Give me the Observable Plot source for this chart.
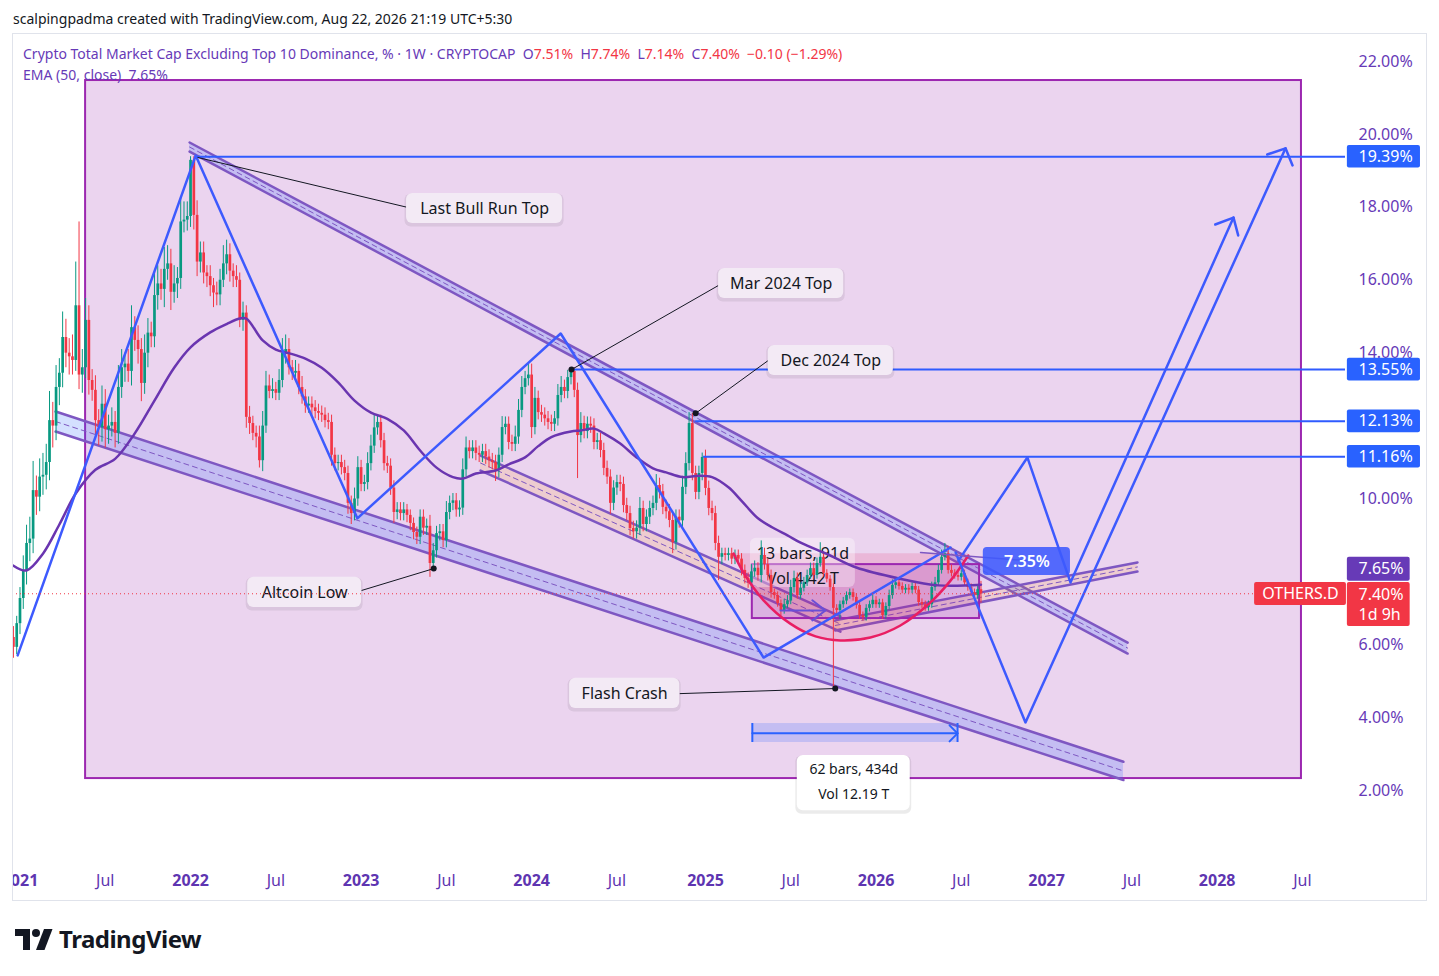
<!DOCTYPE html>
<html><head><meta charset="utf-8">
<script src="https://cdn.jsdelivr.net/npm/d3@7"></script>
<script src="https://cdn.jsdelivr.net/npm/@observablehq/plot@0.6"></script>
<style>
body{margin:0;background:#fff;font-family:"Noto Sans",sans-serif;}
#wrap{position:relative;width:1439px;height:976px;overflow:hidden;background:#fff}
#chart{position:absolute;left:0;top:0}
#leftmask{position:absolute;left:0;top:34px;width:12px;height:866px;background:#fff}
#panel{position:absolute;left:12px;top:33px;width:1415px;height:868px;border:1px solid #e0e3eb;box-sizing:border-box;pointer-events:none}
#credit{position:absolute;left:13px;top:9px;font-size:14px;color:#131722;white-space:nowrap}
#legend{position:absolute;left:23px;top:43px;font-size:14px;color:#673ab7;line-height:21px;white-space:nowrap}
#legend .r{color:#f23645}
#logo{position:absolute;left:15px;top:922px;display:flex;align-items:center;gap:6px;font-size:24px;font-weight:700;color:#131722;letter-spacing:-0.5px}
</style></head>
<body>
<div id="wrap">
<div id="chart"></div>
<div id="leftmask"></div>
<div id="panel"></div>
<div id="credit">scalpingpadma created with TradingView.com, Aug 22, 2026 21:19 UTC+5:30</div>
<div id="legend">Crypto Total Market Cap Excluding Top 10 Dominance, % · 1W · CRYPTOCAP&nbsp; O<span class="r">7.51%</span>&nbsp; H<span class="r">7.74%</span>&nbsp; L<span class="r">7.14%</span>&nbsp; C<span class="r">7.40%</span>&nbsp; <span class="r">−0.10 (−1.29%)</span><br>EMA (50, close)&nbsp; 7.65%</div>
<div id="logo"><svg width="38" height="22" viewBox="0 0 38 22"><path d="M15 22H8V8H0V1h15z" fill="#131722"/><circle cx="21" cy="5" r="4" fill="#131722"/><path d="M29 1h8.5l-8 21H21z" fill="#131722"/></svg><span>TradingView</span></div>
</div>
<script>
// ---------- DATA ----------
const lastBarDate = "2026-08-17";      // weekly bars, last bar
const firstOpen = 6.2;
const closes = [
5.93,6.58,7.27,8.04,8.78,8.9,10.23,10.05,10.6,10.65,11.0,12.15,12.0,13.06,13.45,14.43,14.0,13.9,13.8,15.3,
13.4,13.6,14.9,13.25,12.98,12.15,11.96,12.6,11.9,12.0,12.1,11.8,13.06,13.6,13.7,13.5,14.7,14.35,14.1,13.17,
14.0,14.55,14.45,15.58,15.9,15.75,16.3,16.45,15.67,15.9,16.05,17.6,17.65,17.75,19.29,17.78,16.5,16.75,16.2,16.1,
15.85,15.65,15.6,16.0,16.45,16.7,16.25,16.1,16.0,14.9,15.1,12.24,12.07,11.8,11.7,11.05,12.0,13.1,12.95,13.0,
12.9,13.25,14.0,14.1,13.6,13.45,13.5,13.06,12.8,12.55,12.6,12.5,12.4,12.35,12.3,12.15,12.1,11.2,10.97,11.0,
10.86,10.7,9.88,9.6,10.0,10.86,10.4,10.45,10.97,11.45,11.95,12.1,11.6,10.97,10.9,10.3,9.63,9.7,9.6,9.7,
9.55,9.33,9.08,8.95,9.5,9.2,9.25,8.23,8.58,9.05,9.1,8.86,9.63,9.88,9.95,9.7,9.75,10.8,11.4,11.3,
11.4,11.25,11.2,11.3,11.15,11.05,11.0,10.78,11.2,11.96,12.05,11.55,11.5,11.7,12.43,13.06,13.3,13.4,11.96,12.76,
12.37,12.3,12.2,12.1,12.05,12.2,12.84,13.06,12.95,13.33,13.5,12.98,11.74,12.07,11.85,12.05,12.0,11.55,11.6,11.33,
10.84,10.6,9.88,10.3,10.45,10.4,9.82,9.6,9.19,9.1,9.2,9.74,9.3,9.5,9.74,9.88,10.37,10.2,9.77,9.65,
9.41,8.8,9.5,9.4,10.32,10.97,12.07,10.7,10.18,10.7,11.14,10.29,9.74,9.6,8.78,8.4,8.5,8.45,8.5,8.35,
8.45,8.35,8.04,7.82,7.7,8.0,8.1,7.9,8.45,8.2,7.9,7.43,7.35,7.13,6.94,7.1,7.2,7.57,7.82,7.35,
7.55,7.7,7.9,8.09,7.9,8.23,8.4,7.96,7.8,7.57,7.0,6.94,7.1,7.2,7.35,7.43,7.3,7.08,6.8,6.75,
7.0,7.1,7.22,7.1,7.15,6.8,7.05,7.35,7.63,7.7,7.6,7.5,7.55,7.5,7.6,7.5,7.16,7.1,7.02,7.1,
7.57,7.7,8.04,8.4,8.5,8.04,7.96,7.9,7.85,7.95,7.7,7.57,7.43,7.35,7.51,7.40];
const wickUp = [
0.3,0.2,0.3,0.4,0.5,0.6,0.8,0.4,0.5,0.6,0.5,0.8,0.5,0.6,0.4,0.7,0.5,0.4,0.6,1.2,
2.3,0.5,0.6,0.4,0.3,0.4,0.3,0.5,0.4,0.3,0.4,0.3,0.6,0.5,0.3,0.4,0.6,0.3,0.4,0.3,
0.5,0.4,0.3,0.6,0.5,0.4,0.6,0.5,0.4,0.5,0.3,0.7,0.5,0.4,0.1,0.1,0.4,0.3,0.3,0.2,
0.3,0.2,0.3,0.3,0.5,0.4,0.3,0.2,0.3,0.2,0.3,0.2,0.3,0.2,0.2,0.3,0.4,0.4,0.3,0.3,
0.2,0.3,0.4,0.4,0.3,0.2,0.3,0.2,0.3,0.2,0.2,0.2,0.2,0.2,0.2,0.2,0.2,0.2,0.2,0.2,
0.2,0.2,0.2,0.2,0.3,0.3,0.2,0.2,0.3,0.3,0.35,0.2,0.2,0.2,0.2,0.2,0.2,0.2,0.2,0.2,
0.15,0.15,0.15,0.15,0.2,0.2,0.2,0.3,0.2,0.2,0.2,0.2,0.3,0.2,0.2,0.2,0.2,0.3,0.3,0.2,
0.2,0.2,0.2,0.2,0.2,0.2,0.2,0.2,0.2,0.3,0.2,0.2,0.2,0.3,0.3,0.3,0.2,0.3,0.3,0.3,
0.2,0.2,0.2,0.2,0.2,0.2,0.3,0.3,0.2,0.2,0.05,0.1,0.2,0.3,0.2,0.2,0.2,0.2,0.2,0.2,
0.2,0.2,0.2,0.2,0.2,0.2,0.2,0.2,0.2,0.2,0.2,0.3,0.2,0.2,0.2,0.2,0.3,0.2,0.2,0.2,
0.2,0.2,0.2,0.2,0.3,0.3,0.3,0.28,0.2,0.2,0.12,0.2,0.2,0.2,0.2,0.2,0.15,0.15,0.15,0.15,
0.15,0.15,0.15,0.15,0.15,0.2,0.2,0.15,0.4,0.2,0.15,0.15,0.1,0.1,0.1,0.15,0.15,0.2,0.2,0.15,
0.15,0.15,0.15,0.15,0.15,0.15,0.4,0.15,0.1,0.1,0.1,0.1,0.1,0.1,0.1,0.1,0.1,0.1,0.1,0.1,
0.1,0.1,0.15,0.1,0.1,0.1,0.1,0.15,0.15,0.15,0.1,0.1,0.1,0.1,0.1,0.1,0.1,0.1,0.1,0.1,
0.15,0.15,0.15,0.2,0.28,0.2,0.15,0.1,0.1,0.1,0.1,0.1,0.1,0.1,0.1,0.23];
const wickDn = [
0.3,0.2,0.3,0.3,0.4,0.5,0.4,0.5,0.4,0.5,0.4,0.5,0.6,0.4,0.5,0.4,0.4,0.5,0.4,0.3,
0.4,0.5,0.3,0.4,0.3,0.4,0.5,0.4,0.5,0.4,0.3,0.4,0.3,0.3,0.4,0.3,0.4,0.3,0.4,0.5,
0.3,0.4,0.3,0.3,0.4,0.3,0.5,0.3,0.5,0.3,0.4,0.3,0.3,0.3,0.3,0.4,0.4,0.3,0.3,0.3,
0.3,0.4,0.3,0.3,0.2,0.3,0.3,0.3,0.2,0.2,0.3,0.3,0.3,0.2,0.3,0.2,0.3,0.2,0.2,0.2,
0.2,0.2,0.2,0.3,0.2,0.2,0.2,0.2,0.2,0.2,0.2,0.2,0.2,0.2,0.2,0.2,0.2,0.3,0.2,0.2,
0.2,0.2,0.3,0.3,0.2,0.2,0.2,0.2,0.2,0.2,0.2,0.2,0.2,0.2,0.2,0.2,0.3,0.2,0.2,0.2,
0.2,0.2,0.2,0.2,0.2,0.2,0.2,0.38,0.2,0.2,0.2,0.2,0.2,0.2,0.2,0.2,0.2,0.2,0.2,0.2,
0.2,0.2,0.2,0.2,0.2,0.2,0.2,0.3,0.2,0.2,0.2,0.2,0.2,0.2,0.2,0.2,0.2,0.2,0.3,0.2,
0.2,0.2,0.2,0.2,0.2,0.2,0.2,0.2,0.2,0.2,0.2,0.2,1.18,0.2,0.2,0.2,0.2,0.2,0.2,0.2,
0.2,0.2,0.3,0.2,0.2,0.2,0.2,0.2,0.2,0.2,0.2,0.2,0.2,0.2,0.2,0.2,0.2,0.2,0.2,0.2,
0.2,0.3,0.2,0.2,0.2,0.2,0.2,0.2,0.2,0.2,0.2,0.2,0.2,0.2,0.2,0.64,0.2,0.15,0.15,0.15,
0.15,0.15,0.15,0.15,0.15,0.15,0.15,0.15,0.2,0.15,0.15,0.15,0.1,0.1,0.15,0.1,0.1,0.1,0.15,0.1,
0.1,0.1,0.1,0.1,0.1,0.1,0.1,0.1,0.1,0.1,2.17,0.15,0.24,0.1,0.1,0.1,0.1,0.1,0.1,0.1,
0.1,0.1,0.1,0.1,0.1,0.1,0.1,0.1,0.1,0.1,0.1,0.1,0.1,0.1,0.1,0.1,0.1,0.1,0.1,0.1,
0.1,0.1,0.1,0.1,0.1,0.1,0.1,0.1,0.1,0.1,0.1,0.1,0.1,0.1,0.1,0.26];

// EMA(50) at bar indices
const emaIdx = [0,4,9,14,19,25,31,37,43,49,54,60,65,69,71,76,80,84,89,94,99,104,109,114,119,124,129,134,137,141,147,151,156,160,164,170,173,177,180,185,190,195,199,204,209,213,218,222,227,232,236,240,249,257,270,282,295];
const emaVal = [8.17,8.04,8.5,9.3,10.15,10.8,11.1,11.8,12.7,13.6,14.16,14.57,14.8,14.95,14.95,14.35,14.1,14.0,13.85,13.6,13.2,12.7,12.37,12.2,11.88,11.33,10.86,10.6,10.56,10.7,10.78,10.95,11.14,11.45,11.7,11.85,11.88,11.93,11.8,11.52,11.14,10.84,10.73,10.6,10.64,10.6,10.32,9.95,9.47,9.19,9.0,8.8,8.45,8.12,7.82,7.63,7.65];

// axes (8.00% and 12.00% are hidden behind price tags in the original)
const yTicks = [2,4,6,10,14,16,18,20,22];
const xTickDates = ["2021-01-04","2021-07-05","2022-01-03","2022-07-04","2023-01-02","2023-07-03","2024-01-01","2024-07-01","2025-01-06","2025-07-07","2026-01-05","2026-07-06","2027-01-04","2027-07-05","2028-01-03","2028-07-03"];
const xTickLabels = ["2021","Jul","2022","Jul","2023","Jul","2024","Jul","2025","Jul","2026","Jul","2027","Jul","2028","Jul"];
const xDomainDates = ["2020-12-19","2028-10-03"];

// drawings (time, % value)
const bigBox = {x1:"2021-05-24", x2:"2028-07-01", y1:2.33, y2:21.48};
const chUpper = [["2022-01-01",19.78,19.53],["2027-06-26",6.06,5.76]];
const chLower = [["2021-03-21",12.40,11.85],["2027-06-17",2.79,2.29]];
const chTanDown = [["2023-09-14",11.19,10.78],["2025-10-21",6.78,6.36]];
const chTanUp = [["2025-10-10",6.67,6.39],["2027-07-17",8.26,8.01]];
const levelDates = ["2022-01-13","2024-03-26","2024-12-16","2025-01-02"];
const levelVals = [19.39,13.55,12.13,11.16];
const zigzag = [["2020-12-30",5.71],["2022-01-14",19.42],["2022-12-25",9.47],["2024-03-03",14.54],["2025-05-10",5.65],["2026-06-13",8.67]];
const pathA = [["2026-06-30",8.31],["2026-11-24",11.14],["2027-02-24",7.71],["2028-02-07",17.72]];
const headA = [["2027-12-30",17.53],["2028-02-07",17.72],["2028-02-17",17.23]];
const pathB = [["2026-06-24",8.53],["2026-11-20",3.87],["2028-05-28",19.62]];
const headB = [["2028-04-19",19.45],["2028-05-28",19.62],["2028-06-12",19.15]];
const thinLine = [["2026-04-10",8.53],["2026-11-24",8.31]];
const cupArc = [["2025-03-07",8.50],["2025-04-01",7.90],["2025-05-10",7.22],["2025-07-06",6.58],["2025-08-29",6.23],["2025-10-21",6.12],["2025-12-24",6.20],["2026-02-26",6.53],["2026-05-01",7.16],["2026-06-13",7.76],["2026-07-21",8.45]];
const cupChord = 8.5;
const calloutText = ["Last Bull Run Top","Mar 2024 Top","Dec 2024 Top","Altcoin Low","Flash Crash"];
const calloutBox = [["2023-04-09","2024-03-07",17.56,18.38],["2025-02-03","2025-10-28",15.50,16.32],["2025-05-20","2026-02-11",13.39,14.21],["2022-05-05","2023-01-03",7.02,7.85],["2024-03-22","2024-11-12",4.25,5.08]];
const calloutLink = [["2022-01-18",19.37,"2023-04-11",18.0],["2024-03-26",13.55,"2025-02-03",15.86],["2024-12-16",12.35,"2025-05-20",13.80],["2023-06-06",8.09,"2023-01-03",7.49],["2025-10-10",4.80,"2024-11-12",4.66]];
const calloutDots = [["2024-03-26",13.55],["2024-12-16",12.35],["2023-06-06",8.09],["2025-10-10",4.80]];
const range1Box = ["2025-04-16","2026-08-14",6.72,8.20];
const range1Label = ["2025-04-12","2025-11-22",7.57,8.92];
const range1Text = [["13 bars, 91d",8.50],["Vol 4.42 T",7.82]];
const range1Arrow = [["2025-06-15",6.94],["2025-09-19",6.94]];
const range1Head = [["2025-08-22",7.22],["2025-09-19",6.94],["2025-08-22",6.67]];
const range2Band = ["2025-04-16","2026-06-28",3.32,3.84];
const range2Arrow = [["2025-04-16",3.57],["2026-06-28",3.57]];
const range2Head = [["2026-06-11",3.79],["2026-06-28",3.57],["2026-06-11",3.35]];
const range2Label = ["2025-07-21","2026-03-19",1.45,2.96];
const range2Text = [["62 bars, 434d",2.58],["Vol 12.19 T",1.89]];
const priceNote = ["2026-08-22","2027-02-24",7.90,8.67,"7.35%"];
const lastClose = 7.40;
const tagCol = ["2028-10-07","2029-03-12","2029-02-18"];
const othersTag = ["2028-03-23","2028-10-05",7.08,7.71,"OTHERS.D"];
const redTag = [6.50,7.71,"7.40%",7.38,"1d 9h",6.83];
const emaTag = [7.74,8.40,"7.65%",8.07];

// ---------- BUILD ----------
const P = s => new Date(s + "T00:00:00Z");
const pts = a => a.map(([d,v]) => ({date:P(d), v}));
const WEEK = 7*864e5, n = closes.length, lastT = +P(lastBarDate);
const bars = closes.map((c,i) => {
  const o = i === 0 ? firstOpen : closes[i-1];
  return {date:new Date(lastT + (i-(n-1))*WEEK), o, c, h:Math.max(o,c)+wickUp[i], l:Math.min(o,c)-wickDn[i]};
});
const up = bars.filter(b => b.c >= b.o), dn = bars.filter(b => b.c < b.o);
const ema = emaIdx.map((k,j) => ({date:bars[k].date, v:emaVal[j]}));
const GREEN = "#089981", RED = "#f23645", BLUE = "#3d5afe", CHAN = "#7e57c2";
const xEnd = P(xDomainDates[1]);
const mid = (a,b) => new Date((+P(a) + +P(b))/2);

function channel(raw, fill, op){
  const d = raw.map(([dt,t,b]) => ({date:P(dt), t, b, m:(t+b)/2}));
  return [
    Plot.areaY(d, {x:"date", y1:"b", y2:"t", fill, fillOpacity:op}),
    Plot.line(d, {x:"date", y:"t", stroke:CHAN, strokeWidth:2.5}),
    Plot.line(d, {x:"date", y:"b", stroke:CHAN, strokeWidth:2.5}),
    Plot.line(d, {x:"date", y:"m", stroke:CHAN, strokeWidth:1, strokeDasharray:"5,4"})
  ];
}
const rectOf = (a) => ({x1:P(a[0]), x2:P(a[1]), y1:a[2], y2:a[3]});
const callouts = calloutBox.map((b,i) => ({...rectOf(b), cx:mid(b[0],b[1]), cy:(b[2]+b[3])/2, text:calloutText[i]}));
const links = calloutLink.map(([d1,v1,d2,v2]) => ({x1:P(d1), y1:v1, x2:P(d2), y2:v2}));
const levels = levelDates.map((d,i) => ({date:P(d), v:levelVals[i]}));
const cup = pts(cupArc);
const xLab = xTickDates.map((d,i) => ({date:P(d), label:xTickLabels[i], year:!xTickLabels[i].startsWith("Jul")}));

const chart = Plot.plot({
  width:1439, height:976, margin:0,
  style:{fontFamily:"'Noto Sans', sans-serif", background:"transparent", overflow:"visible"},
  x:{type:"utc", domain:xDomainDates.map(P), range:[12,1345], axis:null},
  y:{type:"linear", domain:[0,22.77], range:[863,33], axis:null},
  marks:[
    Plot.rect([rectOf([bigBox.x1,bigBox.x2,bigBox.y1,bigBox.y2])], {x1:"x1",x2:"x2",y1:"y1",y2:"y2", fill:"#9c27b0", fillOpacity:0.2, stroke:"#9c27b0", strokeWidth:2}),
    channel(chLower, "#2962ff", 0.2),
    channel(chUpper, "#2962ff", 0.2),
    channel(chTanDown, "#ff9800", 0.13),
    channel(chTanUp, "#ff9800", 0.13),
    Plot.areaY(cup, {x:"date", y1:"v", y2:() => cupChord, fill:"#e91e63", fillOpacity:0.16, curve:"catmull-rom"}),
    // range 1
    Plot.rect([rectOf(range1Box)], {x1:"x1",x2:"x2",y1:"y1",y2:"y2", fill:"#9c27b0", fillOpacity:0.2, stroke:"#9c27b0", strokeWidth:2}),
    Plot.rect([rectOf(range1Label)], {x1:"x1",x2:"x2",y1:"y1",y2:"y2", fill:"#ffffff", fillOpacity:0.35, rx:6}),
    Plot.text(range1Text, {x:() => mid(range1Label[0],range1Label[1]), y:d => d[1], text:d => d[0], fontSize:16, fill:"#131722"}),
    // range 2
    Plot.rect([rectOf(range2Band)], {x1:"x1",x2:"x2",y1:"y1",y2:"y2", fill:"#2962ff", fillOpacity:0.2}),
    Plot.ruleX([P(range2Band[0]), P(range2Band[1])], {y1:range2Band[2], y2:range2Band[3], stroke:"#2962ff", strokeWidth:2}),
    Plot.line(pts(range2Arrow), {x:"date", y:"v", stroke:"#2962ff", strokeWidth:2}),
    Plot.line(pts(range2Head), {x:"date", y:"v", stroke:"#2962ff", strokeWidth:2}),
    Plot.rect([rectOf(range2Label)], {x1:"x1",x2:"x2",y1:"y1",y2:"y2", fill:"#000", fillOpacity:0.08, rx:6, dy:2, inset:-1.5}),
    Plot.rect([rectOf(range2Label)], {x1:"x1",x2:"x2",y1:"y1",y2:"y2", fill:"#ffffff", rx:6}),
    Plot.text(range2Text, {x:() => mid(range2Label[0],range2Label[1]), y:d => d[1], text:d => d[0], fontSize:14, fill:"#131722"}),
    // candles
    Plot.ruleX(up, {x:"date", y1:"l", y2:"h", stroke:GREEN, strokeWidth:1}),
    Plot.ruleX(dn, {x:"date", y1:"l", y2:"h", stroke:RED, strokeWidth:1}),
    Plot.ruleX(up, {x:"date", y1:"o", y2:"c", stroke:GREEN, strokeWidth:2.7}),
    Plot.ruleX(dn, {x:"date", y1:"o", y2:"c", stroke:RED, strokeWidth:2.7}),
    // EMA
    Plot.line(ema, {x:"date", y:"v", stroke:"#6a35b0", strokeWidth:2.5, curve:"catmull-rom"}),
    Plot.line(cup, {x:"date", y:"v", stroke:"#e91e63", strokeWidth:2.5, curve:"catmull-rom"}),
    Plot.line(pts(range1Arrow), {x:"date", y:"v", stroke:"#6a4fd6", strokeWidth:2}),
    Plot.line(pts(range1Head), {x:"date", y:"v", stroke:"#6a4fd6", strokeWidth:2}),
    // levels
    Plot.ruleY(levels, {y:"v", x1:"date", x2:() => xEnd, stroke:"#2f5bff", strokeWidth:2}),
    // zigzag & projections
    Plot.line(pts(zigzag), {x:"date", y:"v", stroke:BLUE, strokeWidth:2.5}),
    Plot.line(pts(pathA), {x:"date", y:"v", stroke:BLUE, strokeWidth:2.5}),
    Plot.line(pts(headA), {x:"date", y:"v", stroke:BLUE, strokeWidth:2.5}),
    Plot.line(pts(pathB), {x:"date", y:"v", stroke:BLUE, strokeWidth:2.5}),
    Plot.line(pts(headB), {x:"date", y:"v", stroke:BLUE, strokeWidth:2.5}),
    Plot.line(pts(thinLine), {x:"date", y:"v", stroke:CHAN, strokeWidth:1.5}),
    // callouts
    Plot.link(links, {x1:"x1", y1:"y1", x2:"x2", y2:"y2", stroke:"#131722", strokeWidth:1}),
    Plot.dot(pts(calloutDots), {x:"date", y:"v", r:3, fill:"#131722"}),
    Plot.rect(callouts, {x1:"x1",x2:"x2",y1:"y1",y2:"y2", fill:"#000", fillOpacity:0.07, rx:6, dy:2, inset:-1.5}),
    Plot.rect(callouts, {x1:"x1",x2:"x2",y1:"y1",y2:"y2", fill:"#f3eaf5", rx:6}),
    Plot.text(callouts, {x:"cx", y:"cy", text:"text", fontSize:16, fill:"#131722"}),
    // 7.35% note
    Plot.rect([rectOf(priceNote)], {x1:"x1",x2:"x2",y1:"y1",y2:"y2", fill:"#3d5afe", fillOpacity:0.88, rx:4}),
    Plot.text([priceNote], {x:d => mid(d[0],d[1]), y:d => (d[2]+d[3])/2, text:d => d[4], fill:"#ffffff", fontSize:16, fontWeight:600}),
    // last price line
    Plot.ruleY([lastClose], {x1:() => P(xDomainDates[0]), x2:() => P(othersTag[0]), stroke:RED, strokeWidth:1, strokeDasharray:"1,3"}),
    // y labels
    Plot.text(yTicks, {y:d => d, text:d => d.toFixed(2) + "%", frameAnchor:"right", dx:-81, textAnchor:"start", fontSize:16, fill:"#673ab7"}),
    // x labels
    Plot.text(xLab.filter(d => d.year), {x:"date", text:"label", frameAnchor:"bottom", dy:-91, fontSize:16, fontWeight:700, fill:"#5e35b1"}),
    Plot.text(xLab.filter(d => !d.year), {x:"date", text:"label", frameAnchor:"bottom", dy:-91, fontSize:16, fill:"#5e35b1"}),
    // tags
    Plot.rect(levelVals, {x1:() => P(tagCol[0]), x2:() => P(tagCol[1]), y1:d => d-0.31, y2:d => d+0.31, fill:"#2962ff", rx:2}),
    Plot.text(levelVals, {y:d => d, text:d => d.toFixed(2) + "%", frameAnchor:"right", dx:-81, textAnchor:"start", fontSize:16, fill:"#ffffff"}),
    Plot.rect([emaTag], {x1:() => P(tagCol[0]), x2:() => P(tagCol[2]), y1:d => d[0], y2:d => d[1], fill:"#673ab7", rx:2}),
    Plot.text([emaTag], {y:d => d[3], text:d => d[2], frameAnchor:"right", dx:-81, textAnchor:"start", fontSize:16, fill:"#ffffff"}),
    Plot.rect([redTag], {x1:() => P(tagCol[0]), x2:() => P(tagCol[2]), y1:d => d[0], y2:d => d[1], fill:RED, rx:2}),
    Plot.text([[redTag[2],redTag[3]],[redTag[4],redTag[5]]], {y:d => d[1], text:d => d[0], frameAnchor:"right", dx:-81, textAnchor:"start", fontSize:16, fill:"#ffffff"}),
    Plot.rect([othersTag], {x1:d => P(d[0]), x2:d => P(d[1]), y1:d => d[2], y2:d => d[3], fill:RED, rx:2}),
    Plot.text([othersTag], {x:d => mid(d[0],d[1]), y:d => (d[2]+d[3])/2, text:d => d[4], fontSize:16, fill:"#ffffff"})
  ]
});
document.getElementById("chart").appendChild(chart);
</script>
</body></html>
